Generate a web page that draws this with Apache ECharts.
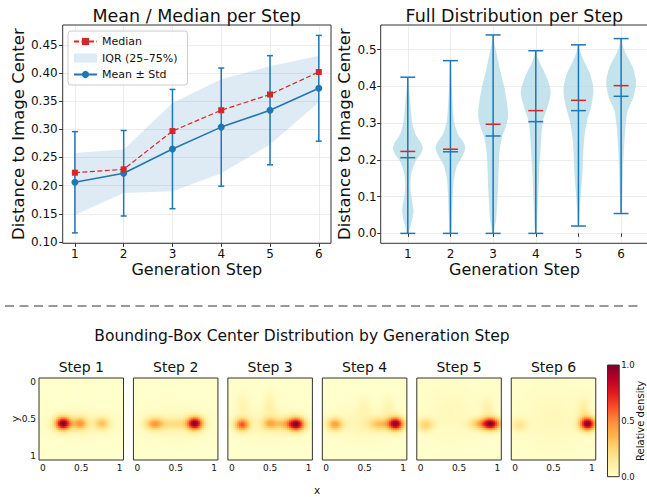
<!DOCTYPE html>
<html><head><meta charset="utf-8">
<script src="https://cdn.jsdelivr.net/npm/echarts@6/dist/echarts.min.js"></script>
<style>html,body{margin:0;padding:0;background:#fff}#c{width:647px;height:497px}</style>
</head><body><div id="c"></div>
<script>
// ---------------- data ----------------
const steps = [1, 2, 3, 4, 5, 6];
const meanVals   = [0.206, 0.222, 0.265, 0.304, 0.334, 0.373];
const stdVals    = [0.090, 0.076, 0.106, 0.105, 0.097, 0.094];
const medianVals = [0.223, 0.229, 0.297, 0.334, 0.362, 0.402];
const iqrLow     = [0.148, 0.187, 0.190, 0.222, 0.273, 0.348];
const iqrHigh    = [0.258, 0.264, 0.347, 0.389, 0.412, 0.431];
const minVals    = [0.000, 0.000, 0.000, 0.000, 0.020, 0.054];
const maxVals    = [0.425, 0.470, 0.540, 0.497, 0.513, 0.530];
// violin outlines: [value, relative half width]
const violin1 = [[0,0.06],[0.012,0.12],[0.035,0.28],[0.063,0.38],[0.09,0.28],[0.115,0.19],[0.14,0.18],[0.165,0.25],[0.195,0.5],[0.215,0.85],[0.23,1.0],[0.245,0.9],[0.27,0.52],[0.30,0.3],[0.33,0.22],[0.36,0.16],[0.39,0.09],[0.425,0.02]];
const violin2 = [[0,0.04],[0.03,0.09],[0.07,0.13],[0.11,0.17],[0.15,0.24],[0.185,0.45],[0.21,0.8],[0.232,1.0],[0.25,0.85],[0.27,0.5],[0.30,0.27],[0.34,0.17],[0.38,0.11],[0.42,0.06],[0.47,0.01]];
const violin3 = [[0,0.05],[0.02,0.12],[0.036,0.2],[0.08,0.27],[0.126,0.33],[0.172,0.37],[0.217,0.42],[0.262,0.6],[0.29,0.85],[0.32,1.0],[0.35,0.95],[0.397,0.75],[0.443,0.47],[0.488,0.24],[0.52,0.08],[0.54,0.01]];
const violin4 = [[0,0.04],[0.036,0.1],[0.081,0.14],[0.126,0.19],[0.172,0.23],[0.217,0.3],[0.262,0.37],[0.307,0.49],[0.343,0.78],[0.384,1.0],[0.425,0.73],[0.461,0.3],[0.48,0.12],[0.497,0.02]];
const violin5 = [[0.02,0.03],[0.054,0.07],[0.09,0.13],[0.126,0.2],[0.172,0.28],[0.217,0.32],[0.262,0.4],[0.307,0.58],[0.352,0.89],[0.393,1.0],[0.434,0.78],[0.47,0.36],[0.495,0.12],[0.513,0.02]];
const violin6 = [[0.054,0.04],[0.108,0.09],[0.172,0.13],[0.235,0.2],[0.289,0.29],[0.334,0.44],[0.37,0.82],[0.411,1.0],[0.452,0.78],[0.488,0.33],[0.51,0.12],[0.53,0.02]];
const violins = [violin1, violin2, violin3, violin4, violin5, violin6];
// KDE kernel components of bbox centers per step: [x, y, weight, sx, sy]
const blobsStep1 = [[0.27,0.565,1.0,0.07,0.06],[0.49,0.565,0.42,0.065,0.055],[0.775,0.565,0.3,0.065,0.055],[0.5,0.57,0.08,0.3,0.12]];
const blobsStep2 = [[0.23,0.57,0.44,0.08,0.055],[0.755,0.565,1.0,0.07,0.06],[0.5,0.57,0.17,0.13,0.05],[0.5,0.57,0.07,0.3,0.14]];
const blobsStep3 = [[0.14,0.58,0.64,0.065,0.057],[0.5,0.565,0.34,0.07,0.055],[0.845,0.575,1.0,0.075,0.06],[0.68,0.57,0.26,0.09,0.055],[0.15,0.32,0.07,0.07,0.12],[0.5,0.32,0.09,0.06,0.12],[0.5,0.57,0.07,0.3,0.14]];
const blobsStep4 = [[0.12,0.575,0.44,0.07,0.057],[0.91,0.57,1.0,0.07,0.06],[0.7,0.57,0.3,0.1,0.055],[0.5,0.34,0.06,0.07,0.1],[0.82,0.36,0.07,0.06,0.11],[0.5,0.57,0.07,0.3,0.14]];
const blobsStep5 = [[0.07,0.585,0.28,0.07,0.06],[0.92,0.57,1.0,0.08,0.057],[0.76,0.57,0.3,0.09,0.055],[0.88,0.36,0.1,0.06,0.11],[0.4,0.42,0.05,0.25,0.25]];
const blobsStep6 = [[0.06,0.585,0.16,0.07,0.06],[0.95,0.57,1.0,0.07,0.06],[0.9,0.39,0.12,0.055,0.11],[0.5,0.5,0.05,0.3,0.3]];
const stepBlobs = [blobsStep1, blobsStep2, blobsStep3, blobsStep4, blobsStep5, blobsStep6];
const stepNames = ['Step 1','Step 2','Step 3','Step 4','Step 5','Step 6'];
const yTicks1 = [0.10,0.15,0.20,0.25,0.30,0.35,0.40,0.45];
const yTicks2 = [0.0,0.1,0.2,0.3,0.4,0.5];
const mapTicks = [0, 0.5, 1];
const cbarTicks = [0, 0.5, 1];

// ---------------- styling ----------------
const FONT = 'DejaVu Sans';
const TXT = '#111';
const C0 = '#1f77b4';
const RED = '#d62728';
const YLORRD = ['#ffffcc','#ffeda0','#fed976','#feb24c','#fd8d3c','#fc4e2a','#e31a1c','#bd0026','#800026'];

function kdeGrid(blobs){
  const n = 44, lo = -0.05, d = 1.1 / n, out = []; let mx = 0;
  for (let i = 0; i < n; i++) for (let j = 0; j < n; j++) {
    const x = lo + (i + 0.5) * d, y = lo + (j + 0.5) * d; let v = 0;
    for (const b of blobs) v += b[2] * Math.exp(-0.5 * (((x - b[0]) / b[3]) ** 2 + ((y - b[1]) / b[4]) ** 2));
    out.push([x, y, v]); if (v > mx) mx = v;
  }
  out.forEach(p => p[2] /= mx);
  return out;
}
const HALF = 1.1 / 44 / 2;

const chart = echarts.init(document.getElementById('c'), null, {renderer: 'svg', width: 647, height: 497});

const grids = [
  {left: 62.7, top: 25, width: 268.3, height: 218.3},
  {left: 380.7, top: 25, width: 267.5, height: 218.3}
];
for (let k = 0; k < 6; k++) grids.push({left: 39 + 94.45 * k, top: 378, width: 84.5, height: 82});
grids.push({left: 607.5, top: 365, width: 11.7, height: 111.7});
grids.forEach(g => Object.assign(g, {show: true, z: 10, backgroundColor: 'rgba(0,0,0,0)', borderColor: '#333', borderWidth: 1, containLabel: false, outerBoundsMode: 'none'}));

const tickStyle = (len, vals) => ({show: true, inside: false, length: len, customValues: vals, lineStyle: {color: '#333', width: 1}});
const labelStyle = (fs, vals, fmt, margin) => ({show: true, customValues: vals, formatter: fmt, fontSize: fs, fontFamily: FONT, color: TXT, margin: margin});
const gridLine = {show: true, lineStyle: {color: '#e8e8e8', width: 0.8}};

const xAxes = [
  {gridIndex: 0, type: 'value', min: 0.75, max: 6.25, axisLine: {show: false}, axisTick: tickStyle(3.5, steps),
   axisLabel: labelStyle(12, steps, v => String(v), 4.5), splitLine: gridLine,
   name: 'Generation Step', nameLocation: 'middle', nameGap: 18, nameTextStyle: {fontSize: 16, fontFamily: FONT, color: TXT}},
  {gridIndex: 1, type: 'value', min: 0.365, max: 6.635, axisLine: {show: false}, axisTick: tickStyle(3.5, steps),
   axisLabel: labelStyle(12, steps, v => String(v), 4.5), splitLine: gridLine,
   name: 'Generation Step', nameLocation: 'middle', nameGap: 18, nameTextStyle: {fontSize: 16, fontFamily: FONT, color: TXT}}
];
const yAxes = [
  {gridIndex: 0, type: 'value', min: 0.0975, max: 0.4855, axisLine: {show: false}, axisTick: tickStyle(3.5, yTicks1),
   axisLabel: labelStyle(12, yTicks1, v => v.toFixed(2), 5), splitLine: gridLine,
   name: 'Distance to Image Center', nameLocation: 'middle', nameRotate: 90, nameGap: 35, nameTextStyle: {fontSize: 16.5, fontFamily: FONT, color: TXT}},
  {gridIndex: 1, type: 'value', min: -0.027, max: 0.567, axisLine: {show: false}, axisTick: tickStyle(3.5, yTicks2),
   axisLabel: labelStyle(12, yTicks2, v => v.toFixed(1), 4), splitLine: gridLine,
   name: 'Distance to Image Center', nameLocation: 'middle', nameRotate: 90, nameGap: 28, nameTextStyle: {fontSize: 16.5, fontFamily: FONT, color: TXT}}
];
const mapFmt = v => (v === 0 ? '0' : v === 1 ? '1' : '0.5');
for (let k = 0; k < 6; k++) {
  xAxes.push({gridIndex: 2 + k, type: 'value', min: -0.05, max: 1.05, axisLine: {show: false}, axisTick: tickStyle(2.5, mapTicks),
    axisLabel: labelStyle(9, mapTicks, mapFmt, 3), splitLine: {show: false}});
  const ya = {gridIndex: 2 + k, type: 'value', inverse: true, min: -0.05, max: 1.05, axisLine: {show: false}, axisTick: tickStyle(2.5, mapTicks),
    axisLabel: Object.assign(labelStyle(9, mapTicks, mapFmt, 3), {show: k === 0}), splitLine: {show: false}};
  if (k === 0) Object.assign(ya, {name: 'y', nameLocation: 'middle', nameRotate: 90, nameGap: 19, nameMoveOverlap: false, nameTextStyle: {fontSize: 10.5, fontFamily: FONT, color: TXT}});
  yAxes.push(ya);
}
xAxes.push({gridIndex: 8, type: 'value', min: 0, max: 1, show: false});
yAxes.push({gridIndex: 8, type: 'value', position: 'right', min: 0, max: 1, axisLine: {show: false}, axisTick: tickStyle(3, cbarTicks),
  axisLabel: labelStyle(8.5, cbarTicks, v => v.toFixed(1), 2), splitLine: {show: false},
  name: 'Relative density', nameLocation: 'middle', nameRotate: 90, nameGap: 16, nameMoveOverlap: false, nameTextStyle: {fontSize: 10, fontFamily: FONT, color: TXT}});

const series = [];
// IQR band
series.push({
  name: 'IQR (25–75%)', type: 'custom', xAxisIndex: 0, yAxisIndex: 0, itemStyle: {color: 'rgba(31,119,180,0.15)'},
  data: [[steps[0], iqrLow[0]]], z: 1,
  renderItem: (params, api) => {
    const pts = [];
    steps.forEach((s, i) => pts.push(api.coord([s, iqrHigh[i]])));
    for (let i = steps.length - 1; i >= 0; i--) pts.push(api.coord([steps[i], iqrLow[i]]));
    return {type: 'polygon', shape: {points: pts}, style: {fill: 'rgba(31,119,180,0.15)'}};
  }
});
// error bars
series.push({
  type: 'custom', xAxisIndex: 0, yAxisIndex: 0, z: 2,
  data: steps.map((s, i) => [s, meanVals[i] - stdVals[i], meanVals[i] + stdVals[i]]),
  renderItem: (params, api) => {
    const lo = api.coord([api.value(0), api.value(1)]), hi = api.coord([api.value(0), api.value(2)]);
    const st = {stroke: C0, lineWidth: 1.5};
    return {type: 'group', children: [
      {type: 'line', shape: {x1: lo[0], y1: lo[1], x2: hi[0], y2: hi[1]}, style: st},
      {type: 'line', shape: {x1: lo[0] - 3, y1: lo[1], x2: lo[0] + 3, y2: lo[1]}, style: st},
      {type: 'line', shape: {x1: hi[0] - 3, y1: hi[1], x2: hi[0] + 3, y2: hi[1]}, style: st}
    ]};
  }
});
series.push({
  name: 'Mean ± Std', type: 'line', xAxisIndex: 0, yAxisIndex: 0, z: 3,
  data: steps.map((s, i) => [s, meanVals[i]]), symbol: 'circle', symbolSize: 7,
  lineStyle: {color: C0, width: 1.6}, itemStyle: {color: C0}, emphasis: {disabled: true}
});
series.push({
  name: 'Median', type: 'line', xAxisIndex: 0, yAxisIndex: 0, z: 4,
  data: steps.map((s, i) => [s, medianVals[i]]), symbol: 'rect', symbolSize: 6,
  lineStyle: {color: RED, width: 1.2, type: [5, 2.5]}, itemStyle: {color: RED}, emphasis: {disabled: true}
});
// violin bodies
series.push({
  type: 'custom', xAxisIndex: 1, yAxisIndex: 1, z: 2,
  data: steps.map((s, i) => [s, meanVals[i]]),
  renderItem: (params, api) => {
    const i = params.dataIndex, s = steps[i], v = violins[i];
    const pts = [];
    v.forEach(p => pts.push(api.coord([s + p[1] * 0.35, p[0]])));
    for (let j = v.length - 1; j >= 0; j--) pts.push(api.coord([s - v[j][1] * 0.35, v[j][0]]));
    return {type: 'polygon', shape: {points: pts, smooth: 0.25}, style: {fill: 'rgba(173,216,230,0.72)'}};
  }
});
// violin lines
series.push({
  type: 'custom', xAxisIndex: 1, yAxisIndex: 1, z: 3,
  data: steps.map((s, i) => [s, minVals[i], maxVals[i], meanVals[i], medianVals[i]]),
  renderItem: (params, api) => {
    const s = api.value(0), w = 0.175;
    const hl = (y, c) => {
      const a = api.coord([s - w, y]), b = api.coord([s + w, y]);
      return {type: 'line', shape: {x1: a[0], y1: a[1], x2: b[0], y2: b[1]}, style: {stroke: c, lineWidth: 1.5}};
    };
    const lo = api.coord([s, api.value(1)]), hi = api.coord([s, api.value(2)]);
    return {type: 'group', children: [
      {type: 'line', shape: {x1: lo[0], y1: lo[1], x2: hi[0], y2: hi[1]}, style: {stroke: C0, lineWidth: 1.5}},
      hl(api.value(1), C0), hl(api.value(2), C0), hl(api.value(3), C0), hl(api.value(4), RED)
    ]};
  }
});
// heatmaps
const heatIdx = [];
for (let k = 0; k < 6; k++) {
  heatIdx.push(series.length);
  series.push({
    type: 'custom', xAxisIndex: 2 + k, yAxisIndex: 2 + k, clip: true, z: 2,
    data: kdeGrid(stepBlobs[k]), encode: {x: 0, y: 1},
    renderItem: (params, api) => {
      const x = api.value(0), y = api.value(1);
      const a = api.coord([x - HALF, y - HALF]), b = api.coord([x + HALF, y + HALF]);
      return {type: 'rect', shape: {x: Math.min(a[0], b[0]) - 0.35, y: Math.min(a[1], b[1]) - 0.35,
        width: Math.abs(b[0] - a[0]) + 0.7, height: Math.abs(b[1] - a[1]) + 0.7}, style: {fill: api.visual('color')}};
    }
  });
}
// colorbar
heatIdx.push(series.length);
const cbarData = [];
for (let i = 0; i < 100; i++) { const v = (i + 0.5) / 100; cbarData.push([0.5, v, v]); }
series.push({
  type: 'custom', xAxisIndex: 8, yAxisIndex: 8, clip: true, z: 2, data: cbarData, encode: {x: 0, y: 1},
  renderItem: (params, api) => {
    const v = api.value(1);
    const a = api.coord([0, v - 0.005]), b = api.coord([1, v + 0.005]);
    return {type: 'rect', shape: {x: a[0], y: Math.min(a[1], b[1]) - 0.4, width: b[0] - a[0], height: Math.abs(b[1] - a[1]) + 0.8}, style: {fill: api.visual('color')}};
  }
});

const graphics = [
  {type: 'line', shape: {x1: 5, y1: 306, x2: 643, y2: 306}, style: {stroke: '#333', lineWidth: 1, lineDash: [9, 5.5]}},
  {type: 'text', x: 196.7, y: 15.5, style: {text: 'Mean / Median per Step', font: '17.5px "DejaVu Sans"', fill: TXT, align: 'center', verticalAlign: 'middle'}},
  {type: 'text', x: 514.4, y: 15.5, style: {text: 'Full Distribution per Step', font: '17.5px "DejaVu Sans"', fill: TXT, align: 'center', verticalAlign: 'middle'}},
  {type: 'text', x: 302, y: 336, style: {text: 'Bounding-Box Center Distribution by Generation Step', font: '15.5px "DejaVu Sans"', fill: TXT, align: 'center', verticalAlign: 'middle'}},
  {type: 'text', x: 317, y: 490, style: {text: 'x', font: '10.5px "DejaVu Sans"', fill: TXT, align: 'center', verticalAlign: 'middle'}}
];
stepNames.forEach((t, k) => graphics.push({type: 'text', x: 39 + 94.45 * k + 42.25, y: 367, style: {text: t, font: '14px "DejaVu Sans"', fill: TXT, align: 'center', verticalAlign: 'middle'}}));

chart.setOption({
  animation: false,
  backgroundColor: '#ffffff',
  textStyle: {fontFamily: FONT},
  grid: grids,
  xAxis: xAxes,
  yAxis: yAxes,
  legend: {
    left: 68, top: 31, orient: 'vertical', padding: [5, 10, 5, 5], itemGap: 5.5, itemWidth: 23, itemHeight: 9,
    backgroundColor: 'rgba(255,255,255,0.8)', borderColor: '#cccccc', borderWidth: 1, borderRadius: 3,
    textStyle: {fontSize: 11, fontFamily: FONT, color: TXT}, selectedMode: false,
    data: [{name: 'Median'}, {name: 'IQR (25–75%)', icon: 'rect', itemStyle: {color: 'rgba(31,119,180,0.15)'}}, {name: 'Mean ± Std'}]
  },
  visualMap: {type: 'continuous', show: false, min: 0, max: 1, dimension: 2, seriesIndex: heatIdx, inRange: {color: YLORRD}},
  graphic: graphics,
  series: series
});
</script></body></html>
